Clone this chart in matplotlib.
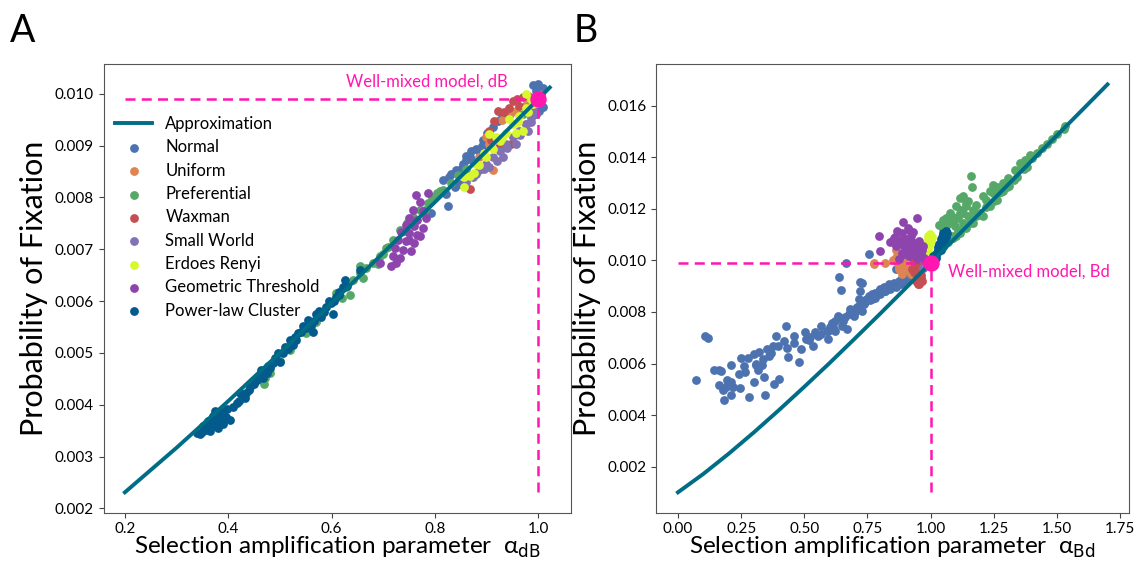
import matplotlib
matplotlib.use('Agg')
import matplotlib.pyplot as plt

plt.rcParams['font.family'] = ['Lato', 'DejaVu Sans']
plt.rcParams['mathtext.fontset'] = 'dejavusans'

# ---------------- datos panel A (alpha_dB) ----------------
a_line_x = [0.20, 0.30, 0.40, 0.50, 0.60, 0.70, 0.80, 0.90, 1.00, 1.022]
a_line_y = [0.00231, 0.00317, 0.00407, 0.00500, 0.00596, 0.00693, 0.00791, 0.00890, 0.00990, 0.01012]

a_normal_x = [0.989, 0.999, 1.008, 0.996, 1.002, 0.989, 0.815, 0.828, 0.841, 0.854, 0.821, 0.825, 0.847,
              0.867, 0.873, 0.886, 0.905, 0.921, 0.805, 0.838, 0.892, 0.912, 0.793, 0.860, 0.880, 1.008,
              0.830, 0.850, 0.860, 0.870, 0.890, 0.900, 0.930, 0.940, 0.995]
a_normal_y = [0.01016, 0.01018, 0.01011, 0.00960, 0.00967, 0.00992, 0.00833, 0.00839, 0.00852, 0.00865, 0.00807,
              0.00784, 0.00826, 0.00877, 0.00871, 0.00890, 0.00916, 0.00948, 0.00807, 0.00820, 0.00910, 0.00935,
              0.00770, 0.00872, 0.00893, 0.00975, 0.00845, 0.00855, 0.00880, 0.00890, 0.00900, 0.00925, 0.00955,
              0.00965, 0.01005]
a_uniform_x = [0.899, 0.905, 0.912, 0.957, 0.976, 0.886, 0.976, 0.930, 0.945]
a_uniform_y = [0.00916, 0.00903, 0.00852, 0.00967, 0.00979, 0.00877, 0.00941, 0.00950, 0.00960]
a_pref_x = [0.471, 0.551, 0.609, 0.628, 0.635, 0.641, 0.654, 0.667, 0.680, 0.693, 0.706, 0.719, 0.732, 0.745,
            0.758, 0.771, 0.787, 0.803, 0.654, 0.815, 0.830, 0.845, 0.860, 0.970, 0.985, 0.560, 0.470,
            0.480, 0.500, 0.520, 0.570, 0.620, 0.660, 0.690, 0.700, 0.710, 0.740, 0.760, 0.780, 0.795, 0.810]
a_pref_y = [0.00451, 0.00538, 0.00615, 0.00628, 0.00612, 0.00641, 0.00654, 0.00663, 0.00673, 0.00686, 0.00702,
            0.00718, 0.00737, 0.00750, 0.00763, 0.00776, 0.00789, 0.00808, 0.00667, 0.00815, 0.00828, 0.00843,
            0.00855, 0.00960, 0.00972, 0.00550, 0.00440, 0.00462, 0.00485, 0.00505, 0.00560, 0.00605, 0.00645,
            0.00672, 0.00690, 0.00705, 0.00735, 0.00755, 0.00775, 0.00800, 0.00812]
a_waxman_x = [0.905, 0.915, 0.921, 0.934, 0.944, 0.950, 0.963, 0.970, 0.947, 0.924, 0.908, 0.867, 0.958, 0.980]
a_waxman_y = [0.00929, 0.00948, 0.00967, 0.00964, 0.00973, 0.00986, 0.00977, 0.00993, 0.00903, 0.00897, 0.00910,
              0.00816, 0.00990, 0.00995]
a_small_x = [0.886, 0.899, 0.912, 0.925, 0.937, 0.950, 0.963, 0.976, 0.986, 0.992, 0.873, 0.905, 0.931, 0.957,
             0.979, 0.996, 1.005, 0.860, 0.880, 0.895, 0.920, 0.940, 0.965, 0.985, 0.995]
a_small_y = [0.00852, 0.00865, 0.00877, 0.00890, 0.00903, 0.00916, 0.00929, 0.00941, 0.00954, 0.00967, 0.00839,
             0.00858, 0.00877, 0.00903, 0.00929, 0.00986, 0.00999, 0.00830, 0.00845, 0.00855, 0.00870, 0.00895,
             0.00920, 0.00945, 0.00960]
a_erdos_x = [0.857, 0.876, 0.886, 0.899, 0.912, 0.925, 0.937, 0.950, 0.963, 0.976, 0.986, 0.976, 0.918, 0.944,
             0.970, 0.957, 0.857, 0.905, 0.867, 0.990, 0.880, 0.895, 0.930, 0.960, 0.980, 0.995]
a_erdos_y = [0.00839, 0.00848, 0.00862, 0.00877, 0.00893, 0.00909, 0.00925, 0.00941, 0.00957, 0.00973, 0.00989,
             0.00999, 0.00916, 0.00951, 0.00929, 0.00925, 0.00820, 0.00922, 0.00842, 0.00980, 0.00865, 0.00885,
             0.00915, 0.00945, 0.00965, 0.00985]
a_geom_x = [0.763, 0.787, 0.770, 0.757, 0.776, 0.750, 0.766, 0.783, 0.744, 0.760, 0.776, 0.735, 0.750, 0.766,
            0.728, 0.744, 0.760, 0.722, 0.738, 0.754, 0.719, 0.732, 0.715, 0.693, 0.725, 0.750, 0.770]
a_geom_y = [0.00804, 0.00808, 0.00791, 0.00776, 0.00773, 0.00760, 0.00757, 0.00760, 0.00747, 0.00744, 0.00741,
            0.00734, 0.00731, 0.00728, 0.00718, 0.00715, 0.00712, 0.00702, 0.00699, 0.00696, 0.00686, 0.00683,
            0.00667, 0.00673, 0.00673, 0.00718, 0.00725]
a_power_x = [0.345, 0.358, 0.371, 0.377, 0.387, 0.397, 0.403, 0.416, 0.422, 0.432, 0.442, 0.455, 0.464, 0.468,
             0.477, 0.487, 0.496, 0.500, 0.509, 0.519, 0.525, 0.535, 0.545, 0.554, 0.561, 0.570, 0.580, 0.589,
             0.599, 0.609, 0.615, 0.625, 0.622, 0.602, 0.564, 0.532, 0.474, 0.435, 0.384, 0.364, 0.351, 0.340,
             0.350, 0.365, 0.380, 0.390, 0.375, 0.395, 0.360, 0.370, 0.380, 0.390, 0.410, 0.420, 0.430, 0.440,
             0.450, 0.460, 0.470, 0.480, 0.490, 0.505, 0.515, 0.530, 0.540, 0.550, 0.565, 0.575, 0.585, 0.595,
             0.605, 0.615, 0.630, 0.655]
a_power_y = [0.00343, 0.00352, 0.00378, 0.00359, 0.00368, 0.00391, 0.00371, 0.00403, 0.00423, 0.00413, 0.00435,
             0.00448, 0.00467, 0.00451, 0.00474, 0.00480, 0.00499, 0.00483, 0.00512, 0.00525, 0.00516, 0.00538,
             0.00551, 0.00563, 0.00554, 0.00576, 0.00570, 0.00589, 0.00596, 0.00608, 0.00618, 0.00641, 0.00628,
             0.00576, 0.00541, 0.00525, 0.00461, 0.00423, 0.00384, 0.00365, 0.00359, 0.00345, 0.00348, 0.00350,
             0.00355, 0.00362, 0.00388, 0.00377, 0.00368, 0.00362, 0.00372, 0.00385, 0.00395, 0.00408, 0.00420,
             0.00428, 0.00440, 0.00455, 0.00465, 0.00470, 0.00490, 0.00500, 0.00508, 0.00530, 0.00540, 0.00548,
             0.00562, 0.00580, 0.00578, 0.00600, 0.00600, 0.00612, 0.00630, 0.00660]

# ---------------- datos panel B (alpha_Bd) ----------------
b_line_x = [0.0, 0.1, 0.2, 0.3, 0.4, 0.5, 0.6, 0.7, 0.8, 0.9, 1.0, 1.2, 1.4, 1.6, 1.7]
b_line_y = [0.00101, 0.00172, 0.00250, 0.00333, 0.00420, 0.00510, 0.00602, 0.00697, 0.00793, 0.00891, 0.00990,
            0.01188, 0.01386, 0.01583, 0.01682]

b_normal_x = [0.072, 0.108, 0.117, 0.144, 0.161, 0.161, 0.179, 0.181, 0.195, 0.208, 0.197, 0.211, 0.219, 0.211,
              0.245, 0.251, 0.265, 0.277, 0.281, 0.299, 0.301, 0.308, 0.315, 0.321, 0.331, 0.335, 0.341, 0.344,
              0.352, 0.361, 0.375, 0.379, 0.388, 0.395, 0.401, 0.421, 0.428, 0.435, 0.459, 0.481, 0.488, 0.501,
              0.508, 0.521, 0.535, 0.541, 0.555, 0.568, 0.588, 0.595, 0.608, 0.621, 0.635, 0.648, 0.655, 0.668,
              0.681, 0.695, 0.708, 0.715, 0.721, 0.728, 0.741, 0.755, 0.768, 0.781, 0.795, 0.815, 0.835, 0.855,
              0.875, 0.888, 0.915, 0.639, 0.645, 0.664, 0.721, 0.728, 0.755, 0.675, 0.701, 0.715, 0.735, 0.748,
              0.768, 0.781, 0.801, 0.821, 0.841, 0.861, 0.881, 0.901, 0.928, 0.941, 0.861, 0.568, 0.595, 0.615,
              0.700, 0.720, 0.740, 0.760, 0.780, 0.800, 0.820, 0.840, 0.860, 0.880, 0.900, 0.920, 0.930, 0.620,
              0.660, 0.690, 0.600, 0.520, 0.460, 0.430, 0.370, 0.310, 0.260, 0.240, 0.190, 0.170]
b_normal_y = [0.00535, 0.00706, 0.00698, 0.00574, 0.00574, 0.00518, 0.00497, 0.00458, 0.00535, 0.00593, 0.00522,
              0.00529, 0.00509, 0.00477, 0.00506, 0.00621, 0.00567, 0.00621, 0.00471, 0.00529, 0.00638, 0.00593,
              0.00574, 0.00644, 0.00593, 0.00619, 0.00548, 0.00480, 0.00657, 0.00631, 0.00670, 0.00522, 0.00708,
              0.00670, 0.00542, 0.00689, 0.00744, 0.00625, 0.00706, 0.00608, 0.00657, 0.00721, 0.00696, 0.00702,
              0.00670, 0.00724, 0.00706, 0.00744, 0.00728, 0.00696, 0.00757, 0.00728, 0.00786, 0.00747, 0.00766,
              0.00734, 0.00811, 0.00786, 0.00818, 0.00850, 0.00882, 0.00805, 0.00837, 0.00863, 0.00850, 0.00875,
              0.00882, 0.00895, 0.00908, 0.00914, 0.00920, 0.00933, 0.00940, 0.00937, 0.00886, 0.00991, 0.00918,
              0.00914, 0.01023, 0.00792, 0.00798, 0.00824, 0.00831, 0.00850, 0.00869, 0.00856, 0.00888, 0.00882,
              0.00901, 0.00895, 0.00908, 0.00920, 0.00946, 0.00952, 0.00965, 0.00715, 0.00728, 0.00741,
              0.00810, 0.00820, 0.00845, 0.00845, 0.00860, 0.00870, 0.00880, 0.00890, 0.00905, 0.00918, 0.00930,
              0.00935, 0.00950, 0.00765, 0.00780, 0.00805, 0.00740, 0.00690, 0.00680, 0.00660, 0.00640, 0.00600,
              0.00590, 0.00560, 0.00510, 0.00570]
b_uniform_x = [0.775, 0.861, 0.868, 0.881, 0.895, 0.908, 0.915, 0.888, 0.921, 0.935, 0.861, 0.901, 0.775, 0.821,
               0.875, 0.888, 0.870, 0.895, 0.905, 0.920, 0.930, 0.875, 0.850]
b_uniform_y = [0.00990, 0.01042, 0.01017, 0.00998, 0.00978, 0.00965, 0.00985, 0.00959, 0.00946, 0.00972, 0.01010,
               0.01010, 0.00985, 0.00991, 0.00965, 0.00946, 0.00985, 0.00995, 0.00975, 0.00960, 0.00945, 0.00970,
               0.01000]
b_pref_x = [1.161, 1.165, 1.115, 1.101, 1.075, 1.048, 1.035, 1.088, 1.128, 1.148, 1.208, 1.235, 1.261, 1.128,
            1.141, 1.115, 1.195, 1.221, 1.248, 1.268, 1.288, 1.308, 1.335, 1.355, 1.375, 1.395, 1.441, 1.481,
            1.528, 1.168, 1.141, 1.115, 1.088, 1.208, 1.261, 1.301, 1.328, 1.181, 1.235, 1.288, 1.361, 1.381,
            1.075, 1.061, 1.108, 1.095, 1.121, 1.141, 1.128, 1.148, 1.168, 1.181, 1.088, 1.108, 1.155, 1.195,
            1.235, 1.268, 1.248, 1.050, 1.070, 1.100, 1.130, 1.160, 1.190, 1.220, 1.250, 1.280, 1.310, 1.340,
            1.370, 1.400, 1.420, 1.460, 1.500, 1.530, 1.050, 1.070, 1.060, 1.090]
b_pref_y = [0.01327, 0.01286, 0.01241, 0.01209, 0.01184, 0.01158, 0.01139, 0.01152, 0.01184, 0.01229, 0.01248,
            0.01267, 0.01286, 0.01248, 0.01222, 0.01183, 0.01184, 0.01235, 0.01261, 0.01280, 0.01299, 0.01318,
            0.01350, 0.01376, 0.01389, 0.01408, 0.01434, 0.01472, 0.01511, 0.01145, 0.01125, 0.01106, 0.01087,
            0.01171, 0.01235, 0.01286, 0.01312, 0.01171, 0.01209, 0.01267, 0.01357, 0.01363, 0.01145, 0.01132,
            0.01164, 0.01132, 0.01196, 0.01209, 0.01145, 0.01171, 0.01196, 0.01216, 0.01094, 0.01113, 0.01145,
            0.01184, 0.01222, 0.01261, 0.01293, 0.01050, 0.01070, 0.01095, 0.01125, 0.01150, 0.01175, 0.01205,
            0.01230, 0.01265, 0.01290, 0.01325, 0.01355, 0.01395, 0.01415, 0.01450, 0.01490, 0.01520, 0.01120,
            0.01150, 0.01165, 0.01170]
b_waxman_x = [0.935, 0.948, 0.955, 0.941, 0.961, 0.951, 0.968, 0.928, 0.975, 0.955, 0.941, 0.935, 0.945, 0.960,
              0.965, 0.940]
b_waxman_y = [0.00998, 0.00978, 0.00959, 0.00946, 0.00933, 0.00910, 0.00972, 0.00965, 0.00991, 0.00908, 0.00920,
              0.00955, 0.00925, 0.00945, 0.00920, 0.00985]
b_small_x = [0.970, 0.980]
b_small_y = [0.00970, 0.00990]
b_erdos_x = [0.998, 0.988, 0.995, 0.992, 1.001, 0.981, 0.990, 0.985, 0.975, 0.990, 1.005]
b_erdos_y = [0.01103, 0.01081, 0.01055, 0.01030, 0.01075, 0.01017, 0.01000, 0.01045, 0.01060, 0.01095, 0.01090]
b_geom_x = [0.891, 0.948, 0.794, 0.868, 0.888, 0.915, 0.921, 0.855, 0.881, 0.901, 0.935, 0.955, 0.968, 0.901,
            0.921, 0.941, 0.961, 0.915, 0.888, 0.861, 0.801, 0.948, 0.975, 0.875, 0.840, 0.860, 0.875, 0.890,
            0.905, 0.920, 0.930, 0.945, 0.950, 0.935, 0.910, 0.895, 0.965, 0.930, 0.910]
b_geom_y = [0.01148, 0.01164, 0.01094, 0.01113, 0.01107, 0.01119, 0.01094, 0.01087, 0.01075, 0.01081, 0.01068,
            0.01075, 0.01055, 0.01049, 0.01036, 0.01042, 0.01023, 0.01017, 0.01030, 0.01055, 0.01036, 0.01004,
            0.01010, 0.01004, 0.01070, 0.01090, 0.01075, 0.01060, 0.01065, 0.01080, 0.01055, 0.01050, 0.01030,
            0.01025, 0.01040, 0.01025, 0.01040, 0.01110, 0.01125]
b_power_x = [1.061, 1.048, 1.041, 1.035, 1.028, 1.021, 1.048, 1.055, 1.015, 1.035, 1.000, 1.010, 1.020, 1.025,
             1.030, 1.040, 1.045, 1.050, 1.065, 1.055, 1.040, 1.060, 1.010]
b_power_y = [0.01113, 0.01100, 0.01081, 0.01062, 0.01042, 0.01023, 0.01075, 0.01094, 0.01004, 0.01042, 0.00990,
             0.01000, 0.01010, 0.01030, 0.01050, 0.01060, 0.01090, 0.01105, 0.01105, 0.01070, 0.01040, 0.01090,
             0.01015]

nombres = ['Normal', 'Uniform', 'Preferential', 'Waxman', 'Small World', 'Erdoes Renyi',
           'Geometric Threshold', 'Power-law Cluster']
colores = ['#4c72b0', '#dd8452', '#55a868', '#c44e52', '#8172b3', '#d7f72e', '#8e44ad', '#035a8c']
col_linea = '#006d86'
magenta = '#ff17b0'
wm_x, wm_y = 1.0, 0.0099

fig = plt.figure(figsize=(11.35, 5.62), dpi=100)
ax1 = fig.add_axes([0.0913, 0.0877, 0.4118, 0.7984])
ax2 = fig.add_axes([0.5784, 0.0877, 0.4163, 0.7984])

series_a = [(a_normal_x, a_normal_y), (a_uniform_x, a_uniform_y), (a_pref_x, a_pref_y),
            (a_waxman_x, a_waxman_y), (a_small_x, a_small_y), (a_erdos_x, a_erdos_y),
            (a_geom_x, a_geom_y), (a_power_x, a_power_y)]
series_b = [(b_normal_x, b_normal_y), (b_uniform_x, b_uniform_y), (b_pref_x, b_pref_y),
            (b_waxman_x, b_waxman_y), (b_small_x, b_small_y), (b_erdos_x, b_erdos_y),
            (b_geom_x, b_geom_y), (b_power_x, b_power_y)]

for ax, series, lx, ly in [(ax1, series_a, a_line_x, a_line_y), (ax2, series_b, b_line_x, b_line_y)]:
    for (sx, sy), nom, col in zip(series, nombres, colores):
        ax.scatter(sx, sy, s=40, color=col, label=nom, linewidths=0, zorder=2)
    ax.plot(lx, ly, color=col_linea, lw=2.8, label='Approximation', zorder=3)
    # lineas del modelo bien mezclado
    ax.plot([lx[0], wm_x], [wm_y, wm_y], color=magenta, lw=1.8, ls=(0, (4, 2.5)), zorder=4)
    ax.plot([wm_x, wm_x], [ly[0], wm_y], color=magenta, lw=1.8, ls=(0, (4, 2.5)), zorder=4)
    ax.scatter([wm_x], [wm_y], s=140, color=magenta, zorder=5, linewidths=0)
    ax.set_ylabel('Probability of Fixation', fontsize=22, labelpad=5)
    ax.tick_params(labelsize=11, color='#444444')
    for sp in ax.spines.values():
        sp.set_color('#555555')

ax1.text(0.94, 0.01024, 'Well-mixed model, dB', color=magenta, fontsize=12, ha='right', va='center')
ax2.text(1.07, 0.00955, 'Well-mixed model, Bd', color=magenta, fontsize=12, ha='left', va='center')

ax1.set_xlabel('Selection amplification parameter  α$_{\\rm dB}$', fontsize=17.5, labelpad=-1)
ax2.set_xlabel('Selection amplification parameter  α$_{\\rm Bd}$', fontsize=17.5, labelpad=-1)
ax1.yaxis.set_major_formatter(matplotlib.ticker.FormatStrFormatter('%.3f'))
ax2.yaxis.set_major_formatter(matplotlib.ticker.FormatStrFormatter('%.3f'))
ax1.set_xticks([0.2, 0.4, 0.6, 0.8, 1.0])

h, l = ax1.get_legend_handles_labels()
orden = [l.index('Approximation')] + [l.index(n) for n in nombres]
ax1.legend([h[i] for i in orden], [l[i] for i in orden], loc='upper left', bbox_to_anchor=(0.0, 0.91),
           frameon=False, fontsize=12, handlelength=2.2, labelspacing=0.44, borderaxespad=0.3)

fig.text(0.009, 0.945, 'A', fontsize=27, va='center')
fig.text(0.505, 0.945, 'B', fontsize=27, va='center')

fig.savefig('out.png', dpi=100)
